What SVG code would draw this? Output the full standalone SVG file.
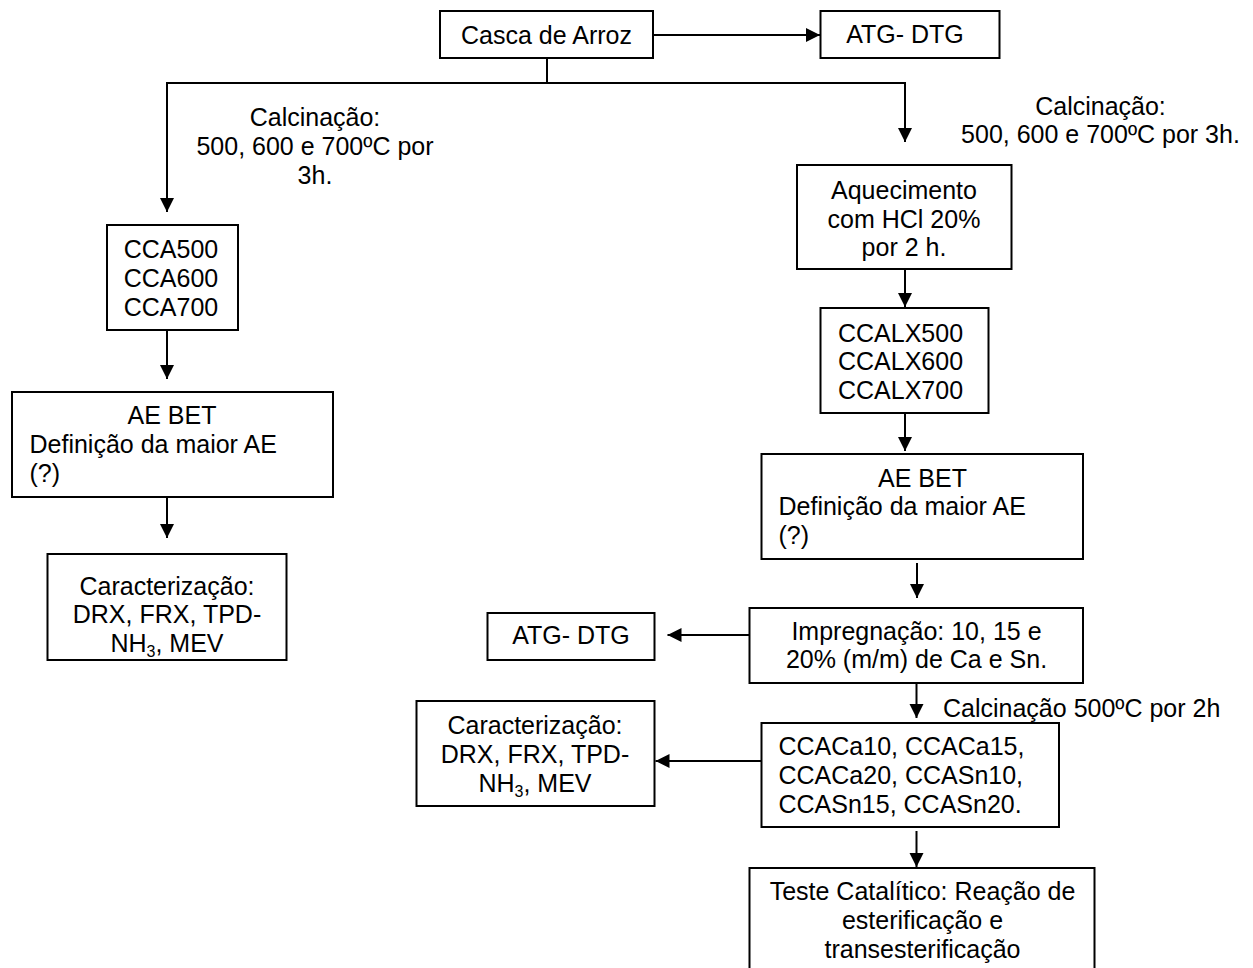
<svg xmlns="http://www.w3.org/2000/svg" width="1253" height="968" viewBox="0 0 1253 968">
<style>
  .box { fill: #ffffff; stroke: #000000; stroke-width: 2; }
  .t { font-family: "Liberation Sans", Arial, sans-serif; font-size: 25px; fill: #000000; }
  .c { text-anchor: middle; }
  .ln { fill: none; stroke: #000000; stroke-width: 2; }
  .arr { fill: none; stroke: #000000; stroke-width: 2; marker-end: url(#ah); }
</style>
<defs>
  <marker id="ah" markerUnits="userSpaceOnUse" markerWidth="15" markerHeight="15" refX="14" refY="7" orient="auto">
    <path d="M0,0 L14,7 L0,14 Z" fill="#000000"/>
  </marker>
</defs>
<rect x="0" y="0" width="1253" height="968" fill="#ffffff"/>

<g id="connectors">
  <path class="arr" d="M653,35 H820"/>
  <path class="ln" d="M547,58 V83"/>
  <path class="arr" d="M547,83 H167 V212"/>
  <path class="arr" d="M547,83 H905 V142"/>
  <path class="arr" d="M167,330 V379"/>
  <path class="arr" d="M167,497 V538"/>
  <path class="arr" d="M905,269 V307"/>
  <path class="arr" d="M905,413 V451"/>
  <path class="arr" d="M917,563 V598"/>
  <path class="arr" d="M749.5,635 H667.5"/>
  <path class="arr" d="M916.5,683 V718"/>
  <path class="arr" d="M761.5,761 H655.5"/>
  <path class="arr" d="M916.5,831 V867"/>
</g>

<g id="label-calc-left">
  <text class="t c" x="315" y="126">Calcinação:</text>
  <text class="t c" x="315" y="155">500, 600 e 700ºC por</text>
  <text class="t c" x="315" y="184">3h.</text>
</g>
<g id="label-calc-right">
  <text class="t c" x="1100.5" y="115">Calcinação:</text>
  <text class="t c" x="1100.5" y="143">500, 600 e 700ºC por 3h.</text>
</g>
<g id="label-calc-500">
  <text class="t" x="943" y="717">Calcinação 500ºC por 2h</text>
</g>

<g id="casca">
  <rect class="box" x="440" y="11" width="213" height="47"/>
  <text class="t c" x="546.5" y="44">Casca de Arroz</text>
</g>
<g id="atg-top">
  <rect class="box" x="820.5" y="11" width="179" height="47"/>
  <text class="t c" x="905" y="43">ATG- DTG</text>
</g>
<g id="cca">
  <rect class="box" x="107" y="225" width="131" height="105"/>
  <text class="t c" x="171" y="258">CCA500</text>
  <text class="t c" x="171" y="287">CCA600</text>
  <text class="t c" x="171" y="316">CCA700</text>
</g>
<g id="ae-left">
  <rect class="box" x="12" y="392" width="321" height="105"/>
  <text class="t c" x="172" y="424">AE BET</text>
  <text class="t" x="29.5" y="453">Definição da maior AE</text>
  <text class="t" x="29.5" y="482">(?)</text>
</g>
<g id="caract-left">
  <rect class="box" x="47.5" y="554" width="239" height="106"/>
  <text class="t c" x="167" y="595">Caracterização:</text>
  <text class="t c" x="167" y="623">DRX, FRX, TPD-</text>
  <text class="t c" x="167" y="652">NH<tspan font-size="16" dy="5">3</tspan><tspan dy="-5">, MEV</tspan></text>
</g>
<g id="aquecimento">
  <rect class="box" x="797" y="165" width="214.5" height="104"/>
  <text class="t c" x="904" y="199">Aquecimento</text>
  <text class="t c" x="904" y="228">com HCl 20%</text>
  <text class="t c" x="904" y="256">por 2 h.</text>
</g>
<g id="ccalx">
  <rect class="box" x="820.5" y="308" width="168" height="105"/>
  <text class="t" x="838" y="341.5">CCALX500</text>
  <text class="t" x="838" y="370">CCALX600</text>
  <text class="t" x="838" y="398.5">CCALX700</text>
</g>
<g id="ae-right">
  <rect class="box" x="761.5" y="454" width="321.5" height="105"/>
  <text class="t c" x="922.5" y="487">AE BET</text>
  <text class="t" x="778.5" y="515">Definição da maior AE</text>
  <text class="t" x="778.5" y="544">(?)</text>
</g>
<g id="atg-mid">
  <rect class="box" x="487.5" y="613" width="167" height="47"/>
  <text class="t c" x="571" y="644">ATG- DTG</text>
</g>
<g id="impregnacao">
  <rect class="box" x="749.5" y="608" width="333.5" height="75"/>
  <text class="t c" x="916.5" y="639.5">Impregnação: 10, 15 e</text>
  <text class="t c" x="916.5" y="668">20% (m/m) de Ca e Sn.</text>
</g>
<g id="caract-right">
  <rect class="box" x="416.5" y="701" width="238" height="105"/>
  <text class="t c" x="535" y="734">Caracterização:</text>
  <text class="t c" x="535" y="763">DRX, FRX, TPD-</text>
  <text class="t c" x="535" y="791.5">NH<tspan font-size="16" dy="5">3</tspan><tspan dy="-5">, MEV</tspan></text>
</g>
<g id="ccaca">
  <rect class="box" x="761.5" y="723" width="297.5" height="104"/>
  <text class="t" x="778.5" y="755">CCACa10, CCACa15,</text>
  <text class="t" x="778.5" y="784">CCACa20, CCASn10,</text>
  <text class="t" x="778.5" y="812.5">CCASn15, CCASn20.</text>
</g>
<g id="teste">
  <rect class="box" x="749.5" y="868" width="345" height="110"/>
  <text class="t c" x="922.5" y="900">Teste Catalítico: Reação de</text>
  <text class="t c" x="922.5" y="929">esterificação e</text>
  <text class="t c" x="922.5" y="958">transesterificação</text>
</g>
</svg>
